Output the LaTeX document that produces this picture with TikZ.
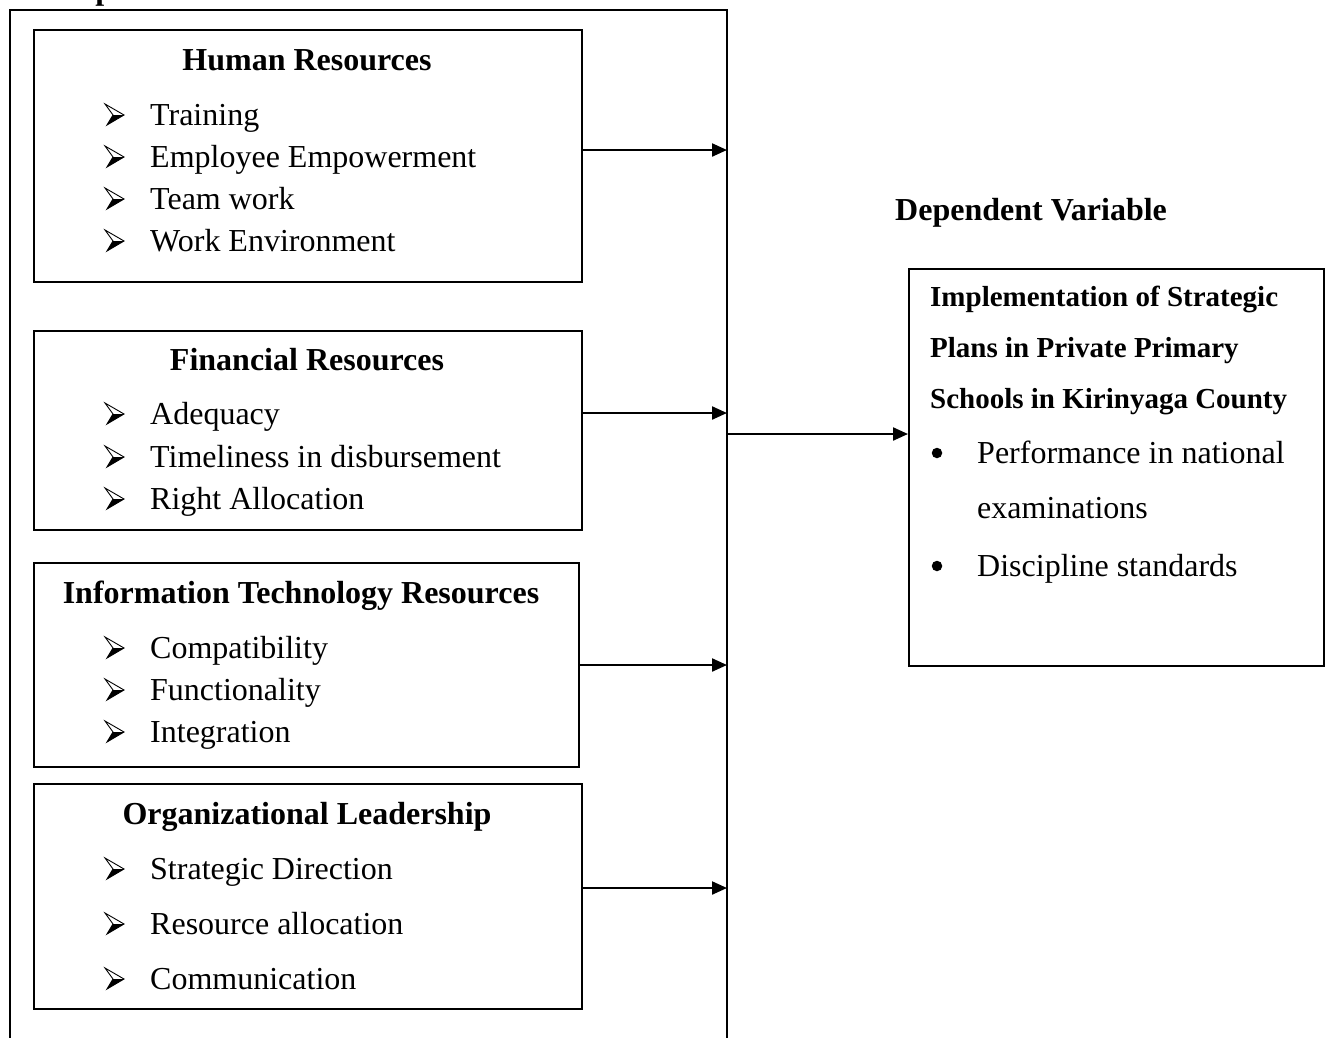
\documentclass[tikz,border=0pt]{standalone}
\usepackage{fontspec}
\setmainfont{Liberation Serif}
\usetikzlibrary{arrows.meta}
\tikzset{
  frame/.style={draw, line width=2pt, inner sep=0pt, anchor=north west},
  head/.style={font=\fontsize{32}{38}\selectfont\bfseries, inner sep=0pt, anchor=base},
  smallhead/.style={font=\fontsize{29}{34}\selectfont\bfseries, inner sep=0pt, anchor=base west},
  item/.style={font=\fontsize{32}{38}\selectfont, inner sep=0pt, anchor=base west},
  dot/.style={circle, fill, inner sep=0pt, minimum size=10.5pt},
  arr/.style={line width=2.2pt, -{Triangle[length=15pt,width=13pt]}},
  arrowbullet/.pic={
    \draw[line width=0.9pt, line join=miter] (0,-21) -- (19,-10) -- (2,0) -- (8,-10) -- cycle;
    \fill (8,-10) -- (19,-10) -- (2,0) -- cycle;
  }
}
\begin{document}
\begin{tikzpicture}[x=1pt,y=-1pt]
\clip (0,0) rectangle (1330,1037);
\fill[white] (0,0) rectangle (1330,1037);
% cut-off title
\node[head, anchor=base west] (indep) at (33,-1) {Independent Variables};
% outer frame
\coordinate (o1) at (10,1040);
\coordinate (o2) at (10,10);
\coordinate (o3) at (727,10);
\coordinate (o4) at (727,1040);
\draw[line width=2pt] (o1) -- (o2) -- (o3) -- (o4);
% boxes
\node[frame, minimum width=548pt, minimum height=252pt] (hr) at (33,29) {};
\node[frame, minimum width=548pt, minimum height=199pt] (fin) at (33,330) {};
\node[frame, minimum width=545pt, minimum height=204pt] (it) at (33,562) {};
\node[frame, minimum width=548pt, minimum height=225pt] (org) at (33,783) {};
\node[frame, minimum width=415pt, minimum height=397pt] (rb) at (908,268) {};
% Human resources
\node[head] (hrh) at (307,70) {Human Resources};
\pic at (105,125) {arrowbullet}; \node[item] (t1) at (150,125) {Training};
\pic at (105,167) {arrowbullet}; \node[item] (t2) at (150,167) {Employee Empowerment};
\pic at (105,209) {arrowbullet}; \node[item] (t3) at (150,209) {Team work};
\pic at (105,251) {arrowbullet}; \node[item] (t4) at (150,251) {Work Environment};
% Financial
\node[head] (finh) at (307,370) {Financial Resources};
\pic at (105,424) {arrowbullet}; \node[item] (t5) at (150,424) {Adequacy};
\pic at (105,467) {arrowbullet}; \node[item] (t6) at (150,467) {Timeliness in disbursement};
\pic at (105,509) {arrowbullet}; \node[item] (t7) at (150,509) {Right Allocation};
% IT
\node[head] (ith) at (301,603) {Information Technology Resources};
\pic at (105,658) {arrowbullet}; \node[item] (t8) at (150,658) {Compatibility};
\pic at (105,700) {arrowbullet}; \node[item] (t9) at (150,700) {Functionality};
\pic at (105,742) {arrowbullet}; \node[item] (t10) at (150,742) {Integration};
% Org leadership
\node[head] (orgh) at (307,824) {Organizational Leadership};
\pic at (105,879) {arrowbullet}; \node[item] (t11) at (150,879) {Strategic Direction};
\pic at (105,934) {arrowbullet}; \node[item] (t12) at (150,934) {Resource allocation};
\pic at (105,989) {arrowbullet}; \node[item] (t13) at (150,989) {Communication};
% Dependent
\node[head, anchor=base west] (dep) at (895,220) {Dependent Variable};
\node[smallhead] (r1) at (930,306) {Implementation of Strategic};
\node[smallhead] (r2) at (930,357) {Plans in Private Primary};
\node[smallhead] (r3) at (930,408) {Schools in Kirinyaga County};
\node[dot] (b1) at (937,453) {}; \node[item] (s1) at (977,463) {Performance in national};
\node[item] (s2) at (977,518) {examinations};
\node[dot] (b2) at (937,566) {}; \node[item] (s3) at (977,576) {Discipline standards};
% arrows
\coordinate (a1) at (727,150);
\coordinate (a2) at (727,413);
\coordinate (a3) at (727,665);
\coordinate (a4) at (727,888);
\coordinate (a5) at (727,434);
\draw[arr] (hr.east |- a1) -- (a1);
\draw[arr] (fin.east |- a2) -- (a2);
\draw[arr] (it.east |- a3) -- (a3);
\draw[arr] (org.east |- a4) -- (a4);
\draw[arr] (a5) -- (rb.west |- a5);
\end{tikzpicture}
\end{document}
